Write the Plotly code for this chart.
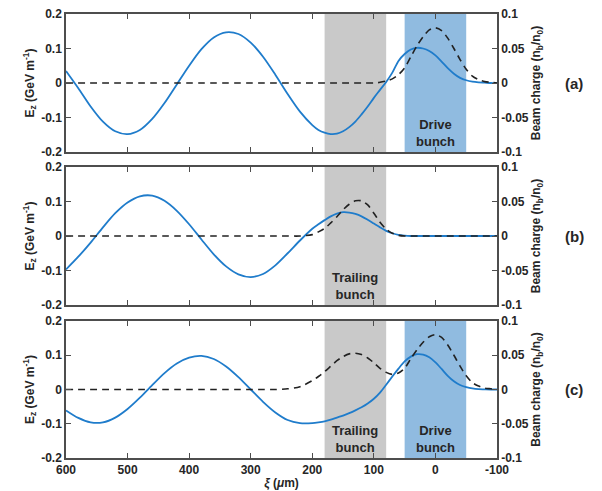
import plotly.graph_objects as go

# ---------------- data ----------------
xi = [600, 580, 560, 540, 520, 500, 480, 460, 440, 420, 400, 380, 360, 340, 320, 300,
      280, 260, 240, 220, 200,
      190, 180, 170, 160, 150, 140, 130, 120, 110, 100, 90, 80, 70, 60, 50, 40, 30, 20, 10,
      0, -10, -20, -30, -40, -50, -60, -70, -80, -90, -100]

ez_a = [0.035, -0.015, -0.068, -0.112, -0.140, -0.148, -0.136, -0.104, -0.058, -0.004,
        0.050, 0.098, 0.132, 0.147, 0.142, 0.117, 0.076, 0.024, -0.032, -0.083, -0.122,
        -0.136, -0.144, -0.148, -0.147, -0.140, -0.128, -0.112, -0.091, -0.068, -0.043,
        -0.020, 0.003, 0.030, 0.064, 0.084, 0.097, 0.102, 0.100, 0.093,
        0.080, 0.062, 0.043, 0.027, 0.015, 0.008, 0.004, 0.002, 0.001, 0.0, 0.0]
q_a = [0.0] * 21 + [0.0, 0.0, 0.0, 0.0, 0.0, 0.0, 0.0, 0.0, 0.0, 0.0,
                    0.001, 0.003, 0.006, 0.012, 0.022, 0.038, 0.054, 0.067, 0.077,
                    0.080, 0.076, 0.065, 0.050, 0.034, 0.020, 0.010, 0.005, 0.002, 0.001, 0.0]

ez_b = [-0.097, -0.060, -0.019, 0.025, 0.066, 0.097, 0.115, 0.117, 0.102, 0.073,
        0.034, -0.010, -0.053, -0.088, -0.111, -0.119, -0.110, -0.085, -0.050, -0.013, 0.021,
        0.034, 0.046, 0.057, 0.065, 0.069, 0.068, 0.064, 0.057, 0.047, 0.036,
        0.025, 0.015, 0.008, 0.003, 0.001, 0.0, 0.0, 0.0, 0.0,
        0.0, 0.0, 0.0, 0.0, 0.0, 0.0, 0.0, 0.0, 0.0, 0.0, 0.0]
q_b = [0.0] * 20 + [0.002,
                    0.006, 0.011, 0.019, 0.028, 0.038, 0.046, 0.051, 0.051, 0.045, 0.033,
                    0.020, 0.010, 0.004, 0.001, 0.0, 0.0, 0.0, 0.0, 0.0,
                    0.0, 0.0, 0.0, 0.0, 0.0, 0.0, 0.0, 0.0, 0.0, 0.0, 0.0]

ez_c = [-0.061, -0.083, -0.096, -0.096, -0.082, -0.057, -0.024, 0.013, 0.048, 0.076,
        0.093, 0.098, 0.089, 0.067, 0.036, 0.000, -0.036, -0.067, -0.089, -0.098, -0.098,
        -0.096, -0.093, -0.088, -0.082, -0.076, -0.069, -0.061, -0.052, -0.041, -0.027,
        -0.009, 0.014, 0.038, 0.061, 0.082, 0.096, 0.103, 0.102, 0.094,
        0.079, 0.060, 0.040, 0.024, 0.013, 0.007, 0.003, 0.001, 0.0005, 0.0, 0.0]
q_c = [0.0] * 18 + [0.001, 0.004, 0.013,
                    0.019, 0.026, 0.034, 0.042, 0.048, 0.052, 0.053, 0.051, 0.046, 0.039,
                    0.031, 0.025, 0.022, 0.024, 0.031, 0.045, 0.058, 0.069, 0.077,
                    0.080, 0.076, 0.065, 0.050, 0.034, 0.020, 0.010, 0.005, 0.002, 0.001, 0.0]

x_ticks = [600, 500, 400, 300, 200, 100, 0, -100]
left_ticks = [-0.2, -0.1, 0, 0.1, 0.2]
left_labels = ["-0.2", "-0.1", "0", "0.1", "0.2"]
right_ticks = [-0.1, -0.05, 0, 0.05, 0.1]
right_labels = ["-0.1", "-0.05", "0", "0.05", "0.1"]
trailing_band = [180, 80]
drive_band = [50, -50]
panel_tags = ["(a)", "(b)", "(c)"]

for arr in (ez_a, q_a, ez_b, q_b, ez_c, q_c):
    assert len(arr) == len(xi)

# ---------------- styling ----------------
W, H = 602, 491
BLUE = "#1f7ccb"
BAND_BLUE = "#90bbe0"
BAND_GRAY = "#c9c9c9"
TXT = "#262626"
AX = "#4d4d4d"
FONT = "Liberation Sans"

x0p, x1p = 66, 497
panels_px = [(14, 152), (167, 305), (321, 458)]
xdom = [x0p / W, x1p / W]
ydoms = [[1 - b / H, 1 - t / H] for t, b in panels_px]

fig = go.Figure()
series = [(ez_a, q_a), (ez_b, q_b), (ez_c, q_c)]
for i, (ez, q) in enumerate(series):
    xa = "x" if i == 0 else f"x{i+1}"
    yl = "y" if i == 0 else f"y{2*i+1}"
    yr = f"y{2*i+2}"
    fig.add_trace(go.Scatter(x=xi, y=q, xaxis=xa, yaxis=yr, mode="lines",
                             line=dict(color="#222222", width=1.6, dash="7px,5px", shape="spline", smoothing=0.8),
                             showlegend=False, hoverinfo="skip"))
    fig.add_trace(go.Scatter(x=xi, y=ez, xaxis=xa, yaxis=yl, mode="lines",
                             line=dict(color=BLUE, width=1.8, shape="spline", smoothing=0.8),
                             showlegend=False, hoverinfo="skip"))

tickfont = dict(family=FONT, size=12, color=TXT, weight="bold")
titlefont = dict(family=FONT, size=12, color=TXT, weight="bold")

layout = dict(width=W, height=H, margin=dict(l=0, r=0, t=0, b=0), template="none",
              paper_bgcolor="white", plot_bgcolor="white", showlegend=False)

shapes = []
annotations = []
for i in range(3):
    xk = "xaxis" if i == 0 else f"xaxis{i+1}"
    ylk = "yaxis" if i == 0 else f"yaxis{2*i+1}"
    yrk = f"yaxis{2*i+2}"
    xref = "x" if i == 0 else f"x{i+1}"
    ylref = "y" if i == 0 else f"y{2*i+1}"
    layout[xk] = dict(domain=xdom, range=[600, -100], anchor=ylref, automargin=False,
                      tickvals=x_ticks, ticktext=[str(v) for v in x_ticks],
                      showticklabels=(i == 2), ticks="inside", ticklen=5, tickwidth=1.3,
                      tickcolor=AX, showline=True, linecolor=AX, linewidth=1.5,
                      mirror="ticks", showgrid=False, zeroline=False, tickfont=tickfont)
    if i == 2:
        layout[xk]["title"] = dict(text="<i>ξ</i> (<i>μ</i>m)", font=titlefont, standoff=2)
    layout[ylk] = dict(domain=ydoms[i], range=[-0.2, 0.2], anchor=xref, automargin=False,
                       tickvals=left_ticks, ticktext=left_labels,
                       ticks="inside", ticklen=5, tickwidth=1.3, tickcolor=AX,
                       showline=True, linecolor=AX, linewidth=1.5, showgrid=False,
                       zeroline=False, tickfont=tickfont,
                       title=dict(text="E<sub>z</sub> (GeV m<sup>-1</sup>)", font=titlefont, standoff=4))
    layout[yrk] = dict(range=[-0.1, 0.1], overlaying=ylref, side="right", anchor=xref,
                       automargin=False,
                       tickvals=right_ticks, ticktext=right_labels,
                       ticks="inside", ticklen=5, tickwidth=1.3, tickcolor=AX,
                       showline=True, linecolor=AX, linewidth=1.5, showgrid=False,
                       zeroline=False, tickfont=tickfont,
                       title=dict(text="Beam charge (n<sub>b</sub>/n<sub>0</sub>)", font=titlefont, standoff=4))
    ydref = f"{ylref} domain"
    if i in (0, 2):
        shapes.append(dict(type="rect", xref=xref, yref=ydref, x0=drive_band[0], x1=drive_band[1],
                           y0=0, y1=1, fillcolor=BAND_BLUE, line=dict(width=0), layer="below"))
    shapes.append(dict(type="rect", xref=xref, yref=ydref, x0=trailing_band[0], x1=trailing_band[1],
                       y0=0, y1=1, fillcolor=BAND_GRAY, line=dict(width=0), layer="below"))
    t, b = panels_px[i]
    ylab = 1 - (b - 19) / H
    if i in (0, 2):
        annotations.append(dict(xref=xref, yref="paper", x=0, y=ylab, text="Drive<br>bunch",
                                xanchor="center", yanchor="middle",
                                showarrow=False, font=dict(family=FONT, size=13, color=TXT, weight="bold")))
    if i in (1, 2):
        annotations.append(dict(xref=xref, yref="paper", x=130, y=ylab, text="Trailing<br>bunch",
                                xanchor="center", yanchor="middle",
                                showarrow=False, font=dict(family=FONT, size=13, color=TXT, weight="bold")))
    annotations.append(dict(xref="paper", yref="paper", x=574 / W, y=1 - ((t + b) / 2) / H,
                            text=panel_tags[i], showarrow=False, xanchor="center", yanchor="middle",
                            font=dict(family=FONT, size=15, color=TXT, weight="bold")))

layout["shapes"] = shapes
layout["annotations"] = annotations
fig.update_layout(**layout)
fig.write_html("out.html")
